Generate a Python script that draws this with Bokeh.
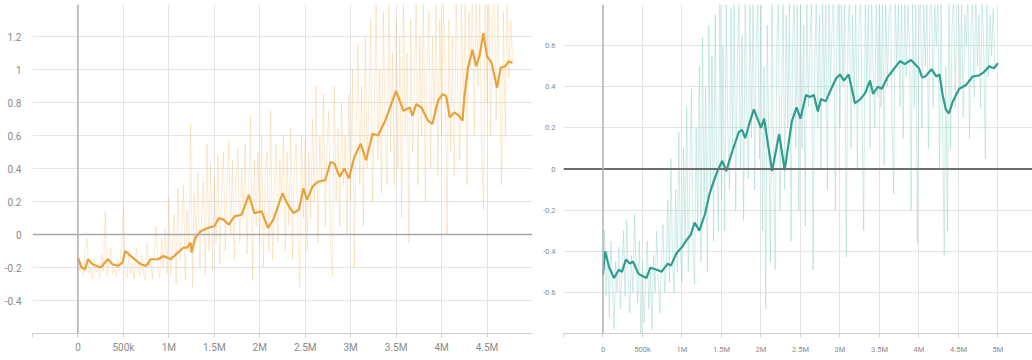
from bokeh.plotting import figure
from bokeh.layouts import row
from bokeh.models import FixedTicker, Span
from bokeh.embed import file_html
from bokeh.resources import INLINE

# ---- left run: reward curve (orange) ----
left_raw_step = 0.02  # millions of steps between raw samples
left_raw = [
    -0.14, -0.22, -0.18, -0.25, -0.1, -0.02, -0.24, -0.2, -0.27, -0.15, -0.23, -0.19, -0.26,
    -0.12, -0.22, 0.14, -0.25, -0.18, -0.08, -0.24, -0.2, -0.26, -0.15, -0.22, -0.05,
    0.17, -0.22, -0.26, -0.1, -0.24, -0.18, -0.27, -0.08, -0.2, -0.25, -0.12, -0.23, -0.28,
    -0.05, -0.2, -0.15, -0.27, -0.1, 0.05, -0.22, -0.26, -0.02, -0.2, 0.04, -0.24,
    0.22, -0.25, -0.05, 0.12, -0.3, 0.28, -0.15, 0.02, 0.3, -0.28, 0.15, -0.1, 0.67,
    -0.32, 0.25, -0.05, 0.38, -0.2, 0.1, 0.32, -0.25, 0.55, -0.1, 0.42, -0.22,
    0.35, -0.05, 0.48, -0.18, 0.25, 0.5, -0.1, 0.3, 0.57, 0.0, 0.45, -0.15, 0.35,
    0.52, -0.05, 0.4, 0.1, 0.55, -0.12, 0.3, 0.72, -0.28, 0.45, 0.05, 0.5,
    -0.05, 0.6, -0.2, 0.35, 0.5, -0.1, 0.75, -0.15, 0.3, 0.55, -0.05, 0.45, 0.2,
    0.6, -0.1, 0.5, 0.05, 0.65, -0.15, 0.4, 0.55, 0.0, -0.32, 0.6, 0.1,
    0.58, -0.1, 0.5, 0.1, 0.7, 0.2, 0.9, -0.05, 0.6, 0.3, 0.85, 0.05, 0.55,
    0.75, -0.1, -0.25, 0.9, 0.2, 0.65, 0.05, 0.8, 0.3, 0.6, 0.0, 0.85,
    0.2, 1.0, -0.2, 0.6, 1.15, 0.3, 0.9, 0.05, 1.2, 0.4, 0.8, 1.3, 0.2,
    0.7, 1.4, 0.45, 1.0, 0.25, 1.35, 0.6, 0.3, 1.45, 0.5, 1.1, 0.3,
    1.3, 0.4, 1.2, 0.1, 1.45, 0.6, 1.1, -0.05, 1.3, 0.5, 0.9, 1.4, 0.3,
    1.2, 0.6, 1.45, 0.2, 1.0, 1.35, 0.4, 1.2, 0.7, 1.4, 0.35, 1.3,
    0.6, 1.45, 0.9, 0.0, 1.3, 0.5, 1.2, 0.35, 1.45, 0.8, 0.45, 1.4, 0.7,
    1.5, 0.3, 1.35, 1.0, 1.5, 0.6, 1.45, 0.9, 1.4, 0.5, 0.15, 1.5,
    0.8, 1.45, 0.6, 1.3, 1.5, 0.7, 1.4, 0.9, 0.3, 1.35, 0.6, 1.45, 0.95, 1.3, 1.05,
]
left_smooth_x = [
    0.0, 0.04, 0.08, 0.11, 0.16, 0.25, 0.33, 0.38, 0.44, 0.49, 0.52, 0.6, 0.69, 0.75,
    0.8, 0.88, 0.94, 1.02, 1.1, 1.16, 1.2, 1.24, 1.25, 1.29, 1.35, 1.43, 1.5, 1.55,
    1.6, 1.66, 1.72, 1.8, 1.88, 1.94, 2.02, 2.09, 2.15, 2.25, 2.3, 2.37, 2.43, 2.48,
    2.52, 2.58, 2.64, 2.72, 2.78, 2.82, 2.88, 2.93, 2.98, 3.04, 3.11, 3.17, 3.24,
    3.3, 3.38, 3.44, 3.5, 3.58, 3.65, 3.68, 3.72, 3.78, 3.85, 3.9, 3.96, 4.01, 4.05,
    4.09, 4.14, 4.19, 4.23, 4.25, 4.29, 4.34, 4.38, 4.42, 4.46, 4.5, 4.55, 4.61,
    4.65, 4.7, 4.74, 4.78,
]
left_smooth_y = [
    -0.14, -0.2, -0.21, -0.15, -0.18, -0.2, -0.15, -0.18, -0.19, -0.17, -0.1, -0.14,
    -0.18, -0.19, -0.15, -0.15, -0.13, -0.15, -0.11, -0.08, -0.08, -0.05, -0.11, -0.02,
    0.02, 0.04, 0.05, 0.1, 0.09, 0.06, 0.11, 0.12, 0.24, 0.13, 0.14, 0.04, 0.09, 0.25,
    0.19, 0.13, 0.15, 0.28, 0.21, 0.29, 0.32, 0.33, 0.44, 0.43, 0.35, 0.4, 0.34, 0.47,
    0.55, 0.45, 0.61, 0.6, 0.69, 0.78, 0.87, 0.75, 0.77, 0.72, 0.79, 0.77, 0.69, 0.67,
    0.81, 0.85, 0.84, 0.71, 0.74, 0.72, 0.69, 0.83, 1.01, 1.12, 1.02, 1.09, 1.22, 1.08,
    1.04, 0.89, 1.01, 1.02, 1.05, 1.04,
]

# ---- right run: reward curve (teal) ----
right_raw_step = 0.02
right_raw = [
    -0.55, -0.3, -0.62, -0.4, -0.72, -0.35, -0.55, -0.78, -0.45, -0.6, -0.38, -0.68, -0.5,
    -0.3, -0.62, -0.25, -0.55, -0.7, -0.42, -0.6, -0.22, -0.5, -0.65, -0.35, -0.8,
    -0.45, -0.75, -0.55, -0.35, -0.68, -0.5, -0.78, -0.42, -0.6, -0.3, -0.55, -0.7, -0.45,
    -0.27, -0.6, -0.5, -0.15, -0.55, 0.05, -0.45, -0.6, -0.1, -0.5, 0.18, -0.4,
    -0.55, 0.1, -0.35, 0.3, -0.5, 0.0, 0.39, -0.4, -0.56, 0.2, -0.3, 0.5, -0.45,
    0.64, -0.2, 0.4, -0.5, 0.7, -0.1, 0.55, -0.35, 0.75, 0.0, -0.3, 0.8,
    -0.15, 0.6, -0.3, 0.8, 0.2, -0.1, 0.78, 0.1, 0.85, -0.2, 0.5, 0.8, 0.0,
    0.65, -0.25, 0.85, 0.3, -0.05, 0.8, 0.15, 0.85, -0.1, 0.6, 0.82, 0.05,
    0.8, -0.3, 0.5, -0.68, 0.7, 0.1, -0.45, 0.85, 0.0, -0.49, 0.6, 0.82, -0.2,
    0.3, 0.85, -0.1, 0.75, 0.2, 0.85, -0.35, 0.6, 0.85, 0.1, 0.8, -0.2,
    0.85, 0.1, 0.7, -0.28, 0.85, 0.3, 0.6, 0.85, -0.49, 0.5, 0.85, 0.2, 0.75,
    0.0, 0.85, 0.35, 0.8, -0.1, 0.85, 0.4, 0.7, 0.85, -0.2, 0.6, 0.85,
    0.2, 0.85, 0.4, 0.8, -0.43, 0.6, 0.85, 0.1, 0.75, 0.3, 0.85, 0.0, 0.7,
    0.85, 0.25, -0.3, 0.85, 0.4, 0.8, 0.1, 0.85, 0.5, 0.2, 0.85, 0.35,
    0.85, 0.3, 0.8, 0.02, 0.85, 0.4, 0.75, 0.85, 0.2, -0.12, 0.85, 0.5, 0.8,
    0.3, 0.85, 0.15, 0.85, 0.45, 0.8, 0.6, -0.2, 0.85, 0.3, 0.8, -0.36,
    0.7, 0.85, 0.2, 0.8, 0.5, 0.85, 0.1, 0.75, 0.85, 0.3, 0.8, 0.6, 0.85,
    0.0, 0.8, 0.2, -0.42, 0.5, -0.3, 0.85, 0.1, 0.7, 0.85, 0.3, 0.8,
    0.85, 0.4, 0.8, 0.25, 0.75, 0.6, 0.85, 0.15, 0.7, 0.8, 0.35, 0.85,
    0.5, 0.75, 0.3, 0.82, 0.6, 0.05, 0.8, 0.45, 0.75, 0.55, 0.78, 0.5,
]
right_smooth_x = [
    0.0, 0.025, 0.08, 0.14, 0.2, 0.24, 0.29, 0.34, 0.38, 0.45, 0.5, 0.55, 0.6, 0.68,
    0.74, 0.82, 0.86, 0.93, 1.0, 1.05, 1.11, 1.16, 1.22, 1.29, 1.35, 1.41, 1.45, 1.51,
    1.56, 1.64, 1.72, 1.76, 1.8, 1.86, 1.91, 2.0, 2.04, 2.14, 2.23, 2.3, 2.39, 2.45,
    2.5, 2.57, 2.62, 2.67, 2.72, 2.76, 2.82, 2.89, 2.95, 3.0, 3.05, 3.11, 3.19, 3.26,
    3.32, 3.38, 3.42, 3.48, 3.53, 3.6, 3.68, 3.76, 3.82, 3.9, 3.95, 4.0, 4.04, 4.08,
    4.16, 4.22, 4.26, 4.3, 4.34, 4.38, 4.43, 4.51, 4.6, 4.68, 4.76, 4.82, 4.89, 4.95,
    5.0,
]
right_smooth_y = [
    -0.515, -0.4, -0.48, -0.53, -0.49, -0.5, -0.44, -0.46, -0.45, -0.51, -0.52, -0.53,
    -0.48, -0.49, -0.5, -0.46, -0.47, -0.41, -0.38, -0.35, -0.32, -0.26, -0.3, -0.22,
    -0.12, -0.05, -0.01, 0.04, -0.01, 0.09, 0.18, 0.19, 0.15, 0.23, 0.29, 0.2, 0.245,
    -0.01, 0.17, -0.005, 0.23, 0.3, 0.245, 0.36, 0.35, 0.36, 0.28, 0.34, 0.33, 0.39,
    0.44, 0.46, 0.43, 0.46, 0.32, 0.34, 0.37, 0.43, 0.365, 0.4, 0.39, 0.445, 0.485,
    0.525, 0.51, 0.53, 0.51, 0.49, 0.445, 0.45, 0.485, 0.45, 0.46, 0.36, 0.29, 0.27,
    0.33, 0.39, 0.41, 0.45, 0.455, 0.47, 0.5, 0.49, 0.515,
]

x_ticks = [-500000 + 500000 * i for i in range(12)]
x_tick_text = ["", "0", "500k", "1M", "1.5M", "2M", "2.5M", "3M", "3.5M", "4M", "4.5M", "5M"]

left_y_ticks = [-0.6, -0.4, -0.2, 0, 0.2, 0.4, 0.6, 0.8, 1, 1.2]
left_y_text = ["", "-0.4", "-0.2", "0", "0.2", "0.4", "0.6", "0.8", "1", "1.2"]
right_y_ticks = [-0.8, -0.6, -0.4, -0.2, 0, 0.2, 0.4, 0.6]
right_y_text = ["", "-0.6", "-0.4", "-0.2", "0", "0.2", "0.4", "0.6"]

GRID = "#e4e4e4"
LABEL = "#8a8a8a"


def panel(width, x_end, y_range, y_ticks, y_text, x_labels_shown, border_left,
          border_right, border_bottom, font_px, y_standoff, x_standoff):
    p = figure(width=width, height=360, x_range=(-500000, x_end), y_range=y_range,
               output_backend="svg", toolbar_location=None,
               min_border_left=border_left, min_border_right=border_right,
               min_border_top=4, min_border_bottom=border_bottom)
    p.outline_line_color = None
    p.background_fill_color = "white"
    p.border_fill_color = "white"
    shown = [t for t in x_ticks if t <= x_labels_shown]
    p.xaxis.ticker = FixedTicker(ticks=shown)
    p.xaxis.major_label_overrides = {t: s for t, s in zip(x_ticks, x_tick_text) if t <= x_labels_shown}
    p.yaxis.ticker = FixedTicker(ticks=y_ticks)
    p.yaxis.major_label_overrides = dict(zip(y_ticks, y_text))
    for ax in (p.xaxis, p.yaxis):
        ax.major_label_text_color = LABEL
        ax.major_label_text_font = "Roboto"
        ax.major_label_text_font_size = f"{font_px}px"
        ax.minor_tick_line_color = None
    p.xaxis.axis_line_color = "#cfcfcf"
    p.xaxis.major_tick_line_color = "#cfcfcf"
    p.xaxis.major_tick_out = 4
    p.xaxis.major_tick_in = 0
    p.xaxis.major_label_standoff = x_standoff
    p.yaxis.axis_line_color = None
    p.yaxis.major_tick_line_color = None
    p.yaxis.major_label_standoff = y_standoff
    p.xgrid.grid_line_color = GRID
    p.ygrid.grid_line_color = GRID
    return p


# left figure
pl = panel(540, 5000000, (-0.6, 1.394), left_y_ticks, left_y_text, 4500000, 32, 8, 27, 10, 5, 4)
pl.add_layout(Span(location=0, dimension="width", line_color="#a8a8a8", line_width=1.5))
pl.add_layout(Span(location=0, dimension="height", line_color="#b0b0b0", line_width=1.5))
lx_raw = [i * left_raw_step * 1e6 for i in range(len(left_raw))]
pl.line(lx_raw, left_raw, line_color="#f3b868", line_alpha=0.3, line_width=1)
pl.line([v * 1e6 for v in left_smooth_x], left_smooth_y, line_color="#e9a23b", line_width=2.2)

# right figure
pr = panel(492, 5437500, (-0.8, 0.8), right_y_ticks, right_y_text, 5000000, 17, 0, 22, 7.5, 2, 7)
pr.add_layout(Span(location=0, dimension="width", line_color="#6e6e6e", line_width=2))
pr.add_layout(Span(location=0, dimension="height", line_color="#b4b4b4", line_width=1.5))
rx_raw = [i * right_raw_step * 1e6 for i in range(len(right_raw))]
pr.line(rx_raw, right_raw, line_color="#86cfc3", line_alpha=0.4, line_width=1)
pr.line([v * 1e6 for v in right_smooth_x], right_smooth_y, line_color="#2f9e8f", line_width=2.2)

layout = row(pl, pr)
open("out.html", "w").write(file_html(layout, INLINE))
